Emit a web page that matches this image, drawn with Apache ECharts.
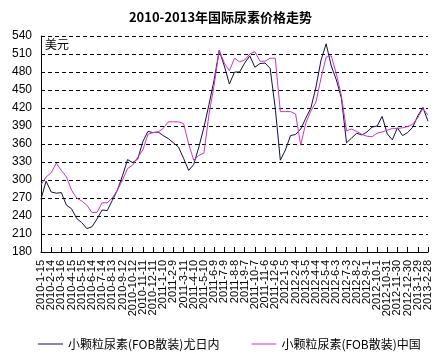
<!DOCTYPE html>
<html><head><meta charset="utf-8">
<script src="https://cdn.jsdelivr.net/npm/echarts@6/dist/echarts.min.js"></script>
<style>html,body{margin:0;padding:0;background:#fff}#c{width:441px;height:364px}</style>
</head><body><div id="c"></div>
<script>
const chartTitle = '2010-2013年国际尿素价格走势';
const unitLabel = '美元';
const seriesNames = ['小颗粒尿素(FOB散装)尤日内', '小颗粒尿素(FOB散装)中国'];
const categories = [
 '2010-1-15','2010-1-30','2010-2-14','2010-3-1','2010-3-16','2010-3-31','2010-4-15','2010-4-30','2010-5-15','2010-5-30',
 '2010-6-14','2010-6-29','2010-7-14','2010-7-29','2010-8-13','2010-8-28','2010-9-12','2010-9-27','2010-10-12','2010-10-27',
 '2010-11-11','2010-11-26','2010-12-11','2010-12-26','2011-1-10','2011-1-25','2011-2-9','2011-2-24','2011-3-11','2011-3-26',
 '2011-4-10','2011-4-25','2011-5-10','2011-5-25','2011-6-9','2011-6-24','2011-7-9','2011-7-24','2011-8-8','2011-8-23',
 '2011-9-7','2011-9-22','2011-10-7','2011-10-22','2011-11-6','2011-11-21','2011-12-6','2011-12-21','2012-1-5','2012-1-20',
 '2012-2-4','2012-2-19','2012-3-5','2012-3-20','2012-4-4','2012-4-19','2012-5-4','2012-5-19','2012-6-3','2012-6-18',
 '2012-7-3','2012-7-18','2012-8-2','2012-8-17','2012-9-1','2012-9-16','2012-10-1','2012-10-16','2012-10-31','2012-11-15',
 '2012-11-30','2012-12-15','2012-12-30','2013-1-14','2013-1-29','2013-2-13','2013-2-28'
];
const yuzhnyValues = [
 268,298,280,278,279,258,252,236,229,219,
 222,235,250,249,266,283,307,334,329,335,
 364,381,379,380,374,369,362,355,336,316,
 326,355,388,426,467,516,490,460,480,480,
 495,507,488,494,495,486,420,333,350,374,
 376,385,403,420,455,500,527,490,467,436,
 362,370,378,375,380,388,390,406,377,367,
 387,374,379,388,407,421,398
];
const chinaValues = [
 292,305,312,328,316,305,283,270,265,258,
 246,246,262,262,270,283,300,319,325,338,
 350,376,379,380,386,397,397,397,394,360,
 333,341,345,410,458,516,495,482,503,497,
 500,510,514,498,498,503,503,414,414,414,
 410,358,395,415,430,470,505,507,477,440,
 382,385,381,376,373,372,378,380,383,386,
 386,387,389,393,404,419,408
];
const yMin = 180, yMax = 540, yInterval = 30;

const chart = echarts.init(document.getElementById('c'), null, {renderer: 'canvas'});
const cjk = '"Noto Sans CJK SC", sans-serif';
chart.setOption({
  animation: false,
  backgroundColor: '#fff',
  title: {
    text: chartTitle, left: 'center', top: 6,
    textStyle: {fontFamily: cjk, fontSize: 13, fontWeight: 'bold', color: '#000'}
  },
  legend: {
    left: 33, top: 333, itemGap: 32, itemWidth: 25, itemHeight: 1, icon: 'rect',
    textStyle: {fontFamily: cjk, fontSize: 12, color: '#000'},
    data: seriesNames
  },
  grid: {left: 41, right: 13, top: 36, bottom: 112, containLabel: false},
  xAxis: {
    type: 'category', data: categories, boundaryGap: false,
    axisLine: {lineStyle: {color: '#000', width: 1}},
    axisTick: {inside: true, length: 5, interval: 1, lineStyle: {color: '#000'}},
    axisLabel: {interval: 0, rotate: 90, margin: 8, hideOverlap: false,
      formatter: function (v, i) { return i % 2 === 0 ? v : ''; },
      fontFamily: '"Liberation Sans", Arial, sans-serif', fontSize: 11, color: '#000'},
    splitLine: {show: false}
  },
  yAxis: {
    type: 'value', min: yMin, max: yMax, interval: yInterval,
    name: unitLabel, nameLocation: 'end', nameGap: -2,
    nameTextStyle: {fontFamily: cjk, fontSize: 12, color: '#000', align: 'left', verticalAlign: 'top', padding: [0, 0, 0, 4]},
    axisLine: {show: true, lineStyle: {color: '#000', width: 1}},
    axisTick: {show: true, inside: true, length: 4, lineStyle: {color: '#000'}},
    axisLabel: {margin: 9, fontFamily: '"Liberation Sans", Arial, sans-serif', fontSize: 12, color: '#000'},
    splitLine: {show: true, lineStyle: {color: '#000', width: 1, type: [4, 3]}}
  },
  series: [
    {name: seriesNames[0], type: 'line', data: yuzhnyValues, symbol: 'none', smooth: false,
     lineStyle: {color: '#101048', width: 1}, itemStyle: {color: '#101048'}},
    {name: seriesNames[1], type: 'line', data: chinaValues, symbol: 'none', smooth: false,
     lineStyle: {color: '#cc33cc', width: 1}, itemStyle: {color: '#cc33cc'}}
  ]
});
</script></body></html>
